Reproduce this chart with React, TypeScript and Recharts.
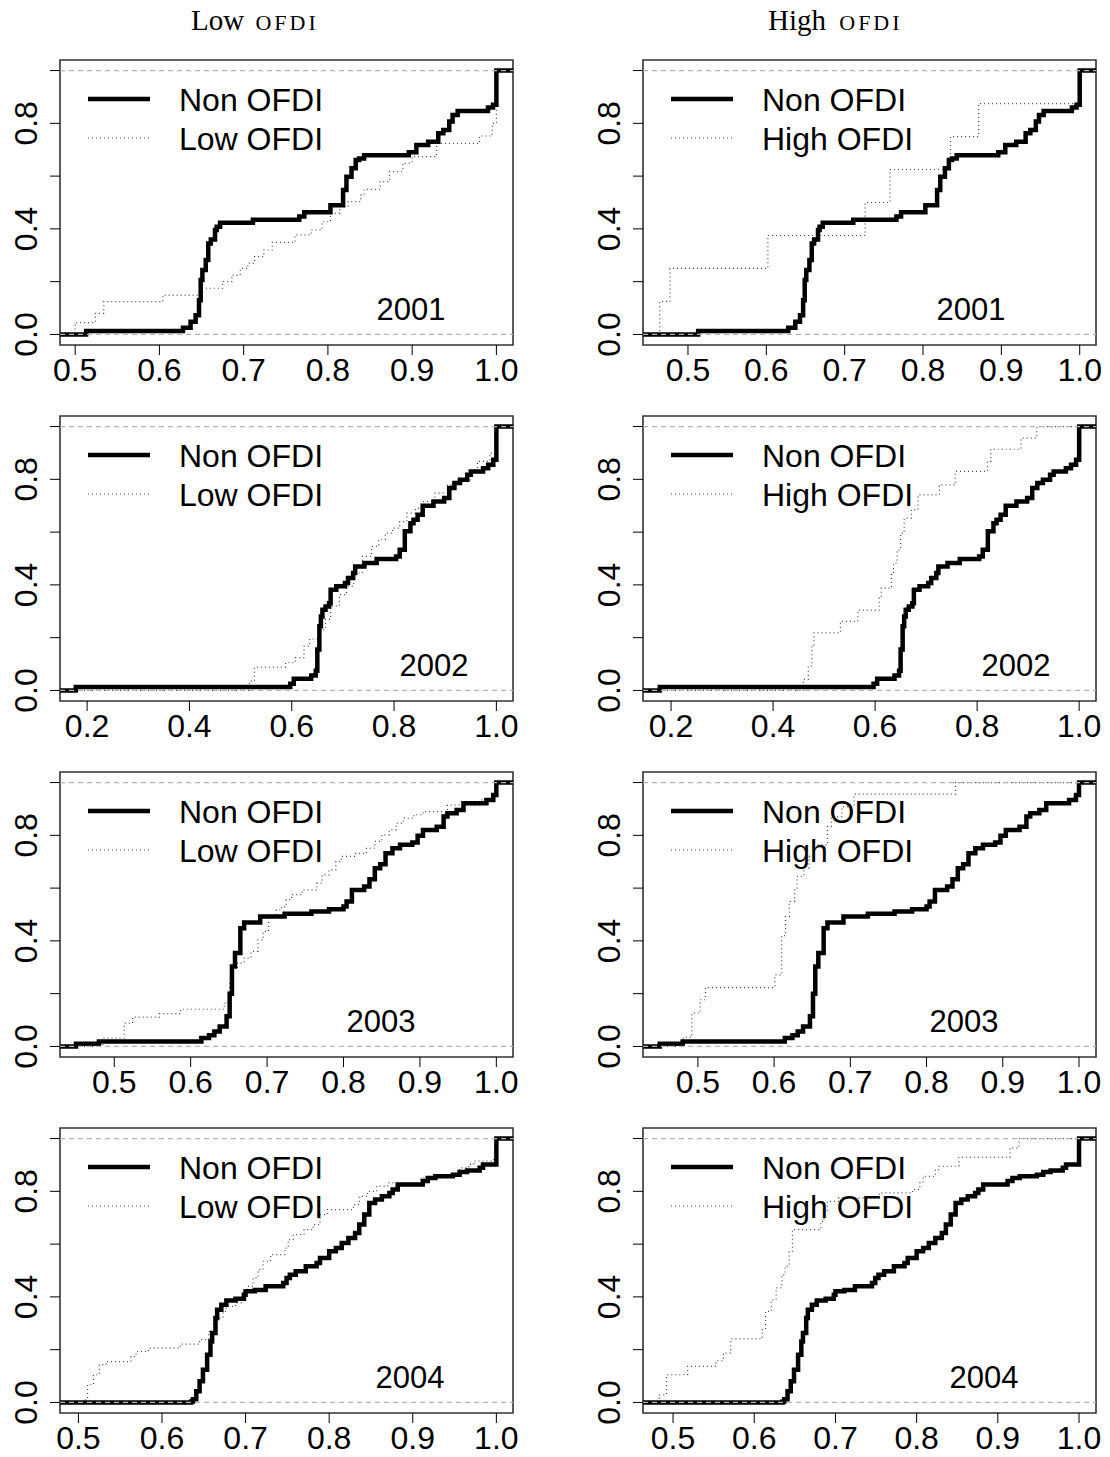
import React from 'react';
import { LineChart, Line, XAxis, YAxis, ReferenceLine, ReferenceArea } from 'recharts';

type Pt = [number, number];

// ---------- data (ECDF jump points: [x, F(x)]) ----------
const nonOfdi2001: Pt[] = [[0.513,0.013],[0.628,0.025],[0.637,0.048],[0.643,0.073],[0.647,0.13],[0.649,0.206],[0.651,0.244],[0.655,0.282],[0.658,0.345],[0.661,0.36],[0.666,0.396],[0.668,0.408],[0.672,0.423],[0.711,0.435],[0.766,0.447],[0.772,0.463],[0.803,0.49],[0.818,0.547],[0.822,0.598],[0.828,0.63],[0.833,0.661],[0.837,0.667],[0.843,0.679],[0.896,0.69],[0.905,0.718],[0.919,0.73],[0.931,0.762],[0.937,0.775],[0.944,0.807],[0.948,0.832],[0.954,0.847],[0.99,0.86],[0.996,0.87],[1.0,1.0]];
const lowOfdi2001: Pt[] = [[0.5,0.045],[0.524,0.08],[0.534,0.124],[0.604,0.149],[0.65,0.175],[0.675,0.2],[0.686,0.225],[0.696,0.25],[0.705,0.27],[0.713,0.295],[0.724,0.32],[0.734,0.349],[0.761,0.377],[0.78,0.396],[0.793,0.427],[0.803,0.459],[0.814,0.484],[0.824,0.503],[0.839,0.528],[0.843,0.55],[0.862,0.579],[0.873,0.617],[0.889,0.649],[0.9,0.674],[0.929,0.724],[0.98,0.752],[0.995,0.8],[1.0,1.0]];
const highOfdi2001: Pt[] = [[0.464,0.125],[0.477,0.25],[0.602,0.375],[0.726,0.5],[0.758,0.625],[0.835,0.75],[0.871,0.875],[1.0,1.0]];

const nonOfdi2002: Pt[] = [[0.178,0.013],[0.597,0.025],[0.604,0.044],[0.638,0.057],[0.647,0.075],[0.65,0.155],[0.654,0.243],[0.657,0.28],[0.66,0.306],[0.666,0.318],[0.673,0.33],[0.676,0.382],[0.687,0.395],[0.704,0.407],[0.71,0.426],[0.72,0.445],[0.724,0.47],[0.742,0.483],[0.766,0.498],[0.804,0.508],[0.811,0.533],[0.821,0.603],[0.832,0.634],[0.838,0.647],[0.846,0.666],[0.856,0.7],[0.877,0.716],[0.898,0.729],[0.908,0.767],[0.918,0.786],[0.929,0.798],[0.943,0.817],[0.95,0.83],[0.974,0.842],[0.984,0.855],[0.994,0.874],[1.0,1.0]];
const lowOfdi2002: Pt[] = [[0.517,0.035],[0.527,0.088],[0.588,0.105],[0.607,0.124],[0.624,0.168],[0.635,0.195],[0.652,0.23],[0.666,0.269],[0.676,0.319],[0.693,0.363],[0.707,0.395],[0.721,0.445],[0.738,0.508],[0.756,0.546],[0.77,0.571],[0.783,0.596],[0.797,0.615],[0.811,0.64],[0.825,0.672],[0.842,0.69],[0.856,0.716],[0.88,0.748],[0.904,0.779],[0.921,0.798],[0.949,0.836],[0.963,0.868],[0.987,0.899],[1.0,1.0]];
const highOfdi2002: Pt[] = [[0.459,0.042],[0.469,0.092],[0.476,0.17],[0.48,0.218],[0.532,0.262],[0.566,0.304],[0.608,0.35],[0.612,0.388],[0.632,0.439],[0.636,0.483],[0.643,0.533],[0.65,0.596],[0.657,0.653],[0.671,0.685],[0.684,0.741],[0.726,0.779],[0.757,0.83],[0.82,0.868],[0.827,0.914],[0.886,0.956],[0.917,1.0]];

const nonOfdi2003: Pt[] = [[0.45,0.01],[0.48,0.019],[0.614,0.032],[0.624,0.042],[0.631,0.057],[0.638,0.076],[0.647,0.114],[0.651,0.2],[0.654,0.303],[0.658,0.354],[0.665,0.448],[0.67,0.47],[0.691,0.492],[0.723,0.503],[0.758,0.511],[0.781,0.52],[0.8,0.53],[0.804,0.549],[0.811,0.593],[0.827,0.606],[0.834,0.634],[0.841,0.675],[0.848,0.69],[0.855,0.732],[0.864,0.751],[0.874,0.764],[0.89,0.773],[0.897,0.798],[0.904,0.82],[0.922,0.833],[0.931,0.871],[0.936,0.884],[0.948,0.896],[0.957,0.922],[0.987,0.934],[0.996,0.953],[1.0,1.0]];
const lowOfdi2003: Pt[] = [[0.485,0.032],[0.513,0.088],[0.524,0.111],[0.559,0.124],[0.587,0.141],[0.644,0.164],[0.651,0.25],[0.656,0.3],[0.661,0.316],[0.67,0.335],[0.679,0.36],[0.688,0.404],[0.695,0.436],[0.702,0.492],[0.712,0.518],[0.719,0.53],[0.725,0.556],[0.732,0.575],[0.746,0.593],[0.765,0.619],[0.772,0.65],[0.781,0.669],[0.79,0.7],[0.797,0.72],[0.816,0.732],[0.83,0.751],[0.841,0.777],[0.85,0.802],[0.86,0.821],[0.869,0.846],[0.878,0.865],[0.892,0.878],[0.904,0.89],[0.936,0.915],[0.978,0.934],[0.996,0.95],[1.0,1.0]];
const highOfdi2003: Pt[] = [[0.481,0.035],[0.492,0.126],[0.503,0.177],[0.51,0.223],[0.601,0.271],[0.61,0.42],[0.615,0.492],[0.62,0.55],[0.627,0.6],[0.63,0.644],[0.639,0.677],[0.646,0.72],[0.652,0.764],[0.67,0.833],[0.675,0.871],[0.689,0.909],[0.705,0.956],[0.838,1.0]];

const nonOfdi2004: Pt[] = [[0.635,0.004],[0.637,0.012],[0.641,0.042],[0.645,0.08],[0.649,0.124],[0.654,0.181],[0.658,0.231],[0.66,0.263],[0.664,0.32],[0.666,0.351],[0.671,0.37],[0.677,0.386],[0.688,0.393],[0.698,0.408],[0.7,0.421],[0.711,0.426],[0.724,0.44],[0.745,0.453],[0.749,0.472],[0.753,0.484],[0.76,0.497],[0.772,0.516],[0.785,0.528],[0.789,0.547],[0.8,0.573],[0.808,0.585],[0.815,0.604],[0.823,0.623],[0.831,0.642],[0.836,0.674],[0.842,0.712],[0.848,0.756],[0.855,0.769],[0.863,0.781],[0.872,0.794],[0.876,0.807],[0.882,0.826],[0.912,0.839],[0.918,0.851],[0.927,0.857],[0.948,0.863],[0.956,0.873],[0.965,0.879],[0.98,0.889],[0.984,0.902],[1.0,1.0]];
const lowOfdi2004: Pt[] = [[0.506,0.01],[0.511,0.067],[0.518,0.105],[0.525,0.143],[0.533,0.155],[0.563,0.174],[0.569,0.193],[0.584,0.206],[0.622,0.221],[0.645,0.238],[0.656,0.269],[0.662,0.32],[0.673,0.345],[0.677,0.364],[0.688,0.377],[0.696,0.408],[0.702,0.44],[0.709,0.472],[0.715,0.503],[0.721,0.535],[0.73,0.56],[0.747,0.585],[0.751,0.617],[0.757,0.636],[0.77,0.655],[0.781,0.674],[0.789,0.712],[0.798,0.731],[0.829,0.75],[0.836,0.781],[0.846,0.8],[0.857,0.82],[0.87,0.832],[0.91,0.851],[0.933,0.863],[0.956,0.889],[0.967,0.902],[0.973,0.915],[0.994,0.92],[1.0,1.0]];
const highOfdi2004: Pt[] = [[0.483,0.029],[0.492,0.105],[0.518,0.137],[0.553,0.158],[0.562,0.187],[0.571,0.241],[0.61,0.276],[0.614,0.345],[0.621,0.389],[0.627,0.434],[0.634,0.484],[0.638,0.516],[0.643,0.573],[0.647,0.655],[0.682,0.686],[0.686,0.724],[0.69,0.762],[0.704,0.775],[0.754,0.794],[0.795,0.807],[0.804,0.832],[0.808,0.857],[0.823,0.882],[0.828,0.895],[0.852,0.929],[0.915,0.965],[0.926,1.0]];

const years = ['2001', '2002', '2003', '2004'];
const groupNames = ['Low', 'High'];
const nonSeries = [nonOfdi2001, nonOfdi2002, nonOfdi2003, nonOfdi2004];
const lowSeries = [lowOfdi2001, lowOfdi2002, lowOfdi2003, lowOfdi2004];
const highSeries = [highOfdi2001, highOfdi2002, highOfdi2003, highOfdi2004];

const ticksFine = [0.5, 0.6, 0.7, 0.8, 0.9, 1.0];
const ticksWide = [0.2, 0.4, 0.6, 0.8, 1.0];
const xTicksByYear = [ticksFine, ticksWide, ticksFine, ticksFine];
const yTicks = [0, 0.2, 0.4, 0.6, 0.8, 1.0];
const yLabelled = [0, 0.4, 0.8];

// x-axis ranges [row][col]
const xDomains: [number, number][][] = [
  [[0.482, 1.0197], [0.4426, 1.0208]],
  [[0.147, 1.0325], [0.145, 1.033]],
  [[0.429, 1.0218], [0.428, 1.0223]],
  [[0.478, 1.0199], [0.463, 1.0209]],
];
const yDomain: [number, number] = [-0.04, 1.04];

// ---------- layout ----------
const BOX_LEFT = [60, 643];
const BOX_TOP = [60, 416, 772, 1128];
const BOX_W = 453;
const BOX_H = 285;
const M_TOP = 20;
const M_RIGHT = 10;
const Y_W = 60;
const X_H = 50;
const YEAR_CX = [[411, 971], [434, 1016], [381, 964], [410, 984]];
const SANS = 'Liberation Sans, Arial, Helvetica, sans-serif';
const SERIF = 'Liberation Serif, Times New Roman, serif';

const toData = (pts: Pt[], dom: [number, number]) => [
  { x: dom[0], y: 0 },
  ...pts.map(([x, y]) => ({ x, y })),
  { x: dom[1], y: 1 },
];

const renderXTick = (props: any) => {
  const { x, y, payload } = props;
  return (
    <text x={x} y={y + 26} textAnchor="middle" fontFamily={SANS} fontSize={32} fill="#000">
      {Number(payload.value).toFixed(1)}
    </text>
  );
};

const renderYTick = (props: any) => {
  const { x, y, payload } = props;
  const v = Number(payload.value);
  if (!yLabelled.some((l) => Math.abs(l - v) < 1e-9)) return <g />;
  const tx = x - 13;
  return (
    <text x={tx} y={y} transform={`rotate(-90 ${tx} ${y})`} textAnchor="middle" fontFamily={SANS} fontSize={32} fill="#000">
      {v.toFixed(1)}
    </text>
  );
};

function Panel({ row, col }: { row: number; col: number }) {
  const dom = xDomains[row][col];
  const other = col === 0 ? lowSeries[row] : highSeries[row];
  const width = Y_W + BOX_W + M_RIGHT;
  const height = M_TOP + BOX_H + X_H;
  return (
    <div style={{ position: 'absolute', left: BOX_LEFT[col] - Y_W, top: BOX_TOP[row] - M_TOP, width, height }}>
      <LineChart width={width} height={height} margin={{ top: M_TOP, right: M_RIGHT, bottom: 0, left: 0 }}>
        <XAxis
          type="number"
          dataKey="x"
          domain={dom}
          ticks={xTicksByYear[row]}
          allowDataOverflow
          interval={0}
          axisLine={false}
          tickLine={{ stroke: '#000', strokeWidth: 1 }}
          tickSize={10}
          tickMargin={0}
          height={X_H}
          tick={renderXTick}
        />
        <YAxis
          type="number"
          dataKey="y"
          domain={yDomain}
          ticks={yTicks}
          allowDataOverflow
          interval={0}
          axisLine={false}
          tickLine={{ stroke: '#000', strokeWidth: 1 }}
          tickSize={10}
          tickMargin={0}
          width={Y_W}
          tick={renderYTick}
        />
        <ReferenceArea x1={dom[0]} x2={dom[1]} y1={yDomain[0]} y2={yDomain[1]} fill="none" stroke="#333" strokeWidth={1.6} ifOverflow="visible" />
        <Line
          data={toData(other, dom)}
          dataKey="y"
          type="stepAfter"
          stroke="#444"
          strokeWidth={1.2}
          strokeDasharray="1 3"
          dot={false}
          activeDot={false}
          isAnimationActive={false}
        />
        <Line
          data={toData(nonSeries[row], dom)}
          dataKey="y"
          type="stepAfter"
          stroke="#000"
          strokeWidth={4.5}
          dot={false}
          activeDot={false}
          isAnimationActive={false}
        />
        <ReferenceLine y={0} stroke="#b3b3b3" strokeDasharray="5 4" strokeWidth={1.2} />
        <ReferenceLine y={1} stroke="#b3b3b3" strokeDasharray="5 4" strokeWidth={1.2} />
      </LineChart>
    </div>
  );
}

function Overlay() {
  const items: React.ReactNode[] = [];
  // column titles
  items.push(
    <text key="t0" x={191} y={30} fontFamily={SERIF} fontSize={29} fill="#000">
      {groupNames[0] + ' '}
      <tspan dx={4} fontSize={22} letterSpacing={3}>OFDI</tspan>
    </text>
  );
  items.push(
    <text key="t1" x={768} y={30} fontFamily={SERIF} fontSize={29} fill="#000">
      {groupNames[1] + ' '}
      <tspan dx={6} fontSize={22} letterSpacing={3}>OFDI</tspan>
    </text>
  );
  for (let r = 0; r < 4; r++) {
    for (let c = 0; c < 2; c++) {
      const bx = BOX_LEFT[c];
      const by = BOX_TOP[r];
      items.push(
        <g key={`lg${r}${c}`}>
          <line x1={bx + 28} x2={bx + 90} y1={by + 39} y2={by + 39} stroke="#000" strokeWidth={4.5} />
          <line x1={bx + 28} x2={bx + 90} y1={by + 78} y2={by + 78} stroke="#444" strokeWidth={1.2} strokeDasharray="1 3" />
          <text x={bx + 119} y={by + 51} fontFamily={SANS} fontSize={32} fill="#000">Non OFDI</text>
          <text x={bx + 119} y={by + 90} fontFamily={SANS} fontSize={32} fill="#000">{groupNames[c]} OFDI</text>
          <text x={YEAR_CX[r][c]} y={by + 260} textAnchor="middle" fontFamily={SANS} fontSize={31} fill="#000">{years[r]}</text>
        </g>
      );
    }
  }
  return (
    <svg width={1110} height={1457} style={{ position: 'absolute', left: 0, top: 0, pointerEvents: 'none' }}>
      {items}
    </svg>
  );
}

export default function App() {
  const panels: React.ReactNode[] = [];
  for (let r = 0; r < 4; r++) {
    for (let c = 0; c < 2; c++) {
      panels.push(<Panel key={`p${r}${c}`} row={r} col={c} />);
    }
  }
  return (
    <div style={{ position: 'absolute', left: 0, top: 0, width: 1110, height: 1457, background: '#fff', overflow: 'hidden' }}>
      {panels}
      <Overlay />
    </div>
  );
}
